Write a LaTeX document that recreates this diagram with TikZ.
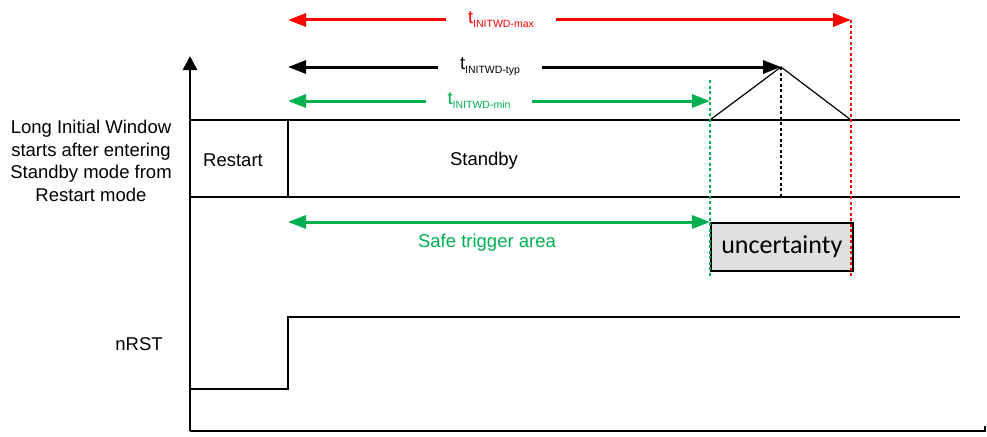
\documentclass[tikz,border=0pt]{standalone}
\usepackage{fontspec}
\setmainfont{Liberation Sans}
\newfontfamily\calib{Carlito}
\usetikzlibrary{arrows.meta}
\definecolor{tired}{HTML}{FF0000}
\definecolor{tigreen}{HTML}{00B050}
\definecolor{boxgray}{HTML}{E0E0E0}
\newcommand{\tlab}[1]{{\fontsize{18.5}{20}\selectfont t}{\fontsize{10.5}{12}\selectfont\raisebox{-4pt}{#1}}}
\begin{document}
\begin{tikzpicture}[x=1pt,y=-1pt,
  sig/.style={line width=2.6pt},
  thin/.style={line width=1.2pt},
  dim/.style={line width=3pt,{Triangle[length=18pt,width=13pt]}-{Triangle[length=18pt,width=13pt]}},
  dimlab/.style={fill=white,inner xsep=22pt,inner ysep=2pt,font=\fontsize{18.5}{20}\selectfont},
  vdash/.style={line width=2.4pt,dash pattern=on 3pt off 2.5pt},
  txt/.style={font=\fontsize{18.5}{22.5}\selectfont,inner sep=0pt}
]
\useasboundingbox (0,0) rectangle (987,436);
% coordinates
\coordinate (o) at (190,431);
\coordinate (ytop) at (190,56);
\coordinate (xend) at (985,431);
\coordinate (a1) at (190,120); \coordinate (a2) at (960,120);
\coordinate (b1) at (190,197); \coordinate (b2) at (960,197);
\coordinate (rs1) at (288,120); \coordinate (rs2) at (288,197);
\coordinate (n0) at (190,389); \coordinate (n1) at (288,389); \coordinate (n2) at (288,317); \coordinate (n3) at (960,317);
\coordinate (tmin) at (710,120); \coordinate (ttyp) at (781,67); \coordinate (tmax) at (851,120);
% axes
\draw[sig,-{Triangle[length=14pt,width=14pt]}] (o) -- (ytop);
\draw[sig] (o) -- (xend) -- ++(0,-5);
% mode lines
\draw[sig] (a1) -- (a2);
\draw[sig] (b1) -- (b2);
\draw[sig] (rs1) -- (rs2);
% nRST
\draw[sig] (n0) -- (n1) -- (n2) -- (n3);
% triangle
\draw[thin] (tmin) -- (ttyp) -- (tmax);
% dashed verticals
\coordinate (g1) at (710,80); \coordinate (g2) at (710,276);
\coordinate (k2) at (781,197);
\coordinate (r1) at (851,20); \coordinate (r2) at (851,276);
% uncertainty box
\node[draw=black,line width=1.6pt,fill=boxgray,minimum width=142pt,minimum height=48pt,inner sep=0pt,anchor=north west,font=\calib\fontsize{26}{28}\selectfont] (unc) at (710,222) {uncertainty};
\draw[vdash,tigreen] (g1) -- (g2);
\draw[vdash,black] (ttyp) -- (k2);
\draw[vdash,tired] (r1) -- (r2);
% dimension arrows
\coordinate (rl) at (288,20); \coordinate (bl) at (288,67); \coordinate (gl) at (288,101); \coordinate (gr) at (710,101);
\coordinate (sl) at (288,222); \coordinate (sr) at (710,222);
\draw[dim,tired] (rl) -- (r1);
\node[dimlab,text=tired] (lmax) at (501,20) {\tlab{INITWD-max}};
\draw[dim,black] (bl) -- (ttyp);
\node[dimlab,text=black] (ltyp) at (490,67) {\tlab{INITWD-typ}};
\draw[dim,tigreen] (gl) -- (gr);
\node[dimlab,text=tigreen] (lmin) at (479,101) {\tlab{INITWD-min}};
\draw[dim,tigreen] (sl) -- (sr);
\node[txt,text=tigreen] (safe) at (487,243) {Safe trigger area};
% texts
\node[txt] (standby) at (484,161) {Standby};
\node[txt] (restart) at (233,160) {Restart};
\node[txt] (nrst) at (139,344) {nRST};
\node[txt,align=center] (desc) at (91,161) {Long Initial Window\\starts after entering\\Standby mode from\\Restart mode};
\end{tikzpicture}
\end{document}
